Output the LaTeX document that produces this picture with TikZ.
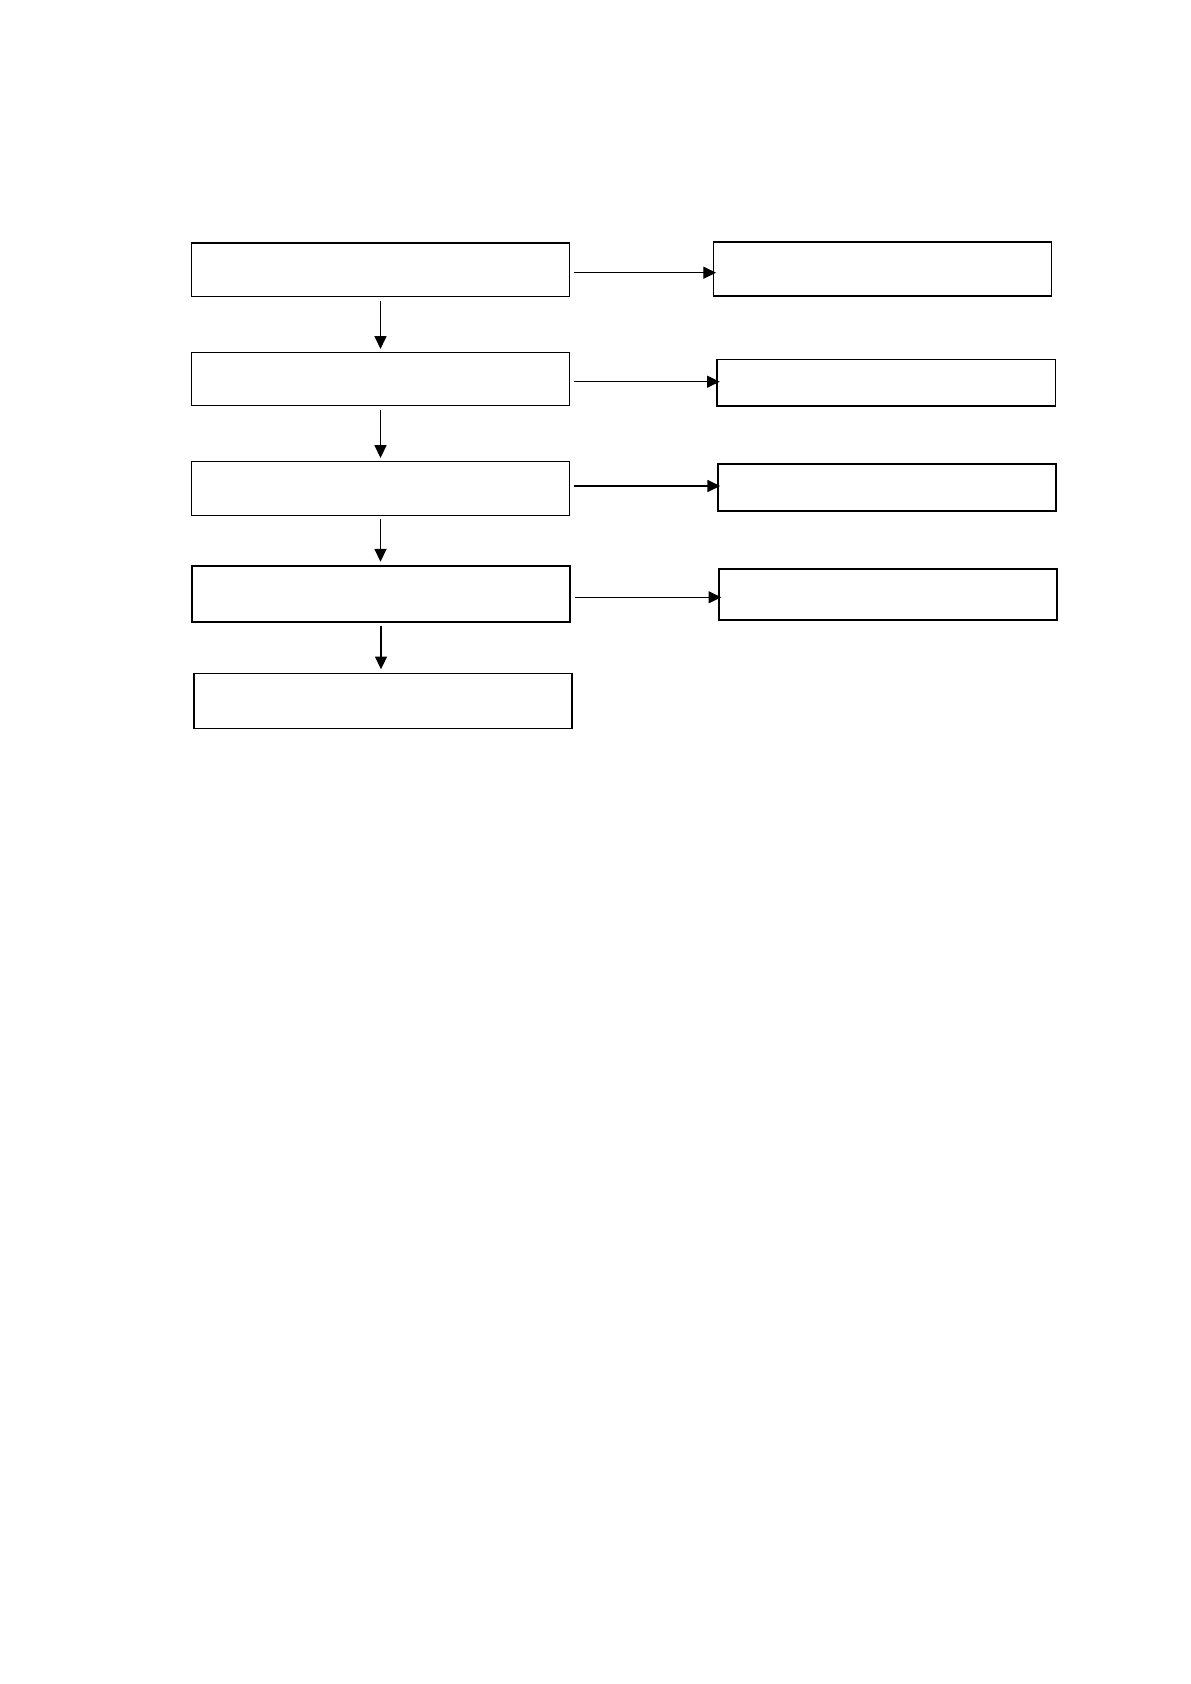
\documentclass[tikz,border=0pt]{standalone}
\usetikzlibrary{arrows.meta}
\begin{document}
\begin{tikzpicture}[x=0.5pt, y=-0.5pt,
    box/.style={draw, rectangle, inner sep=0pt},
    arr/.style={line width=0.6pt, -{Triangle[length=6.4pt, width=6pt]}}]
  \useasboundingbox (0,0) rectangle (1190,1684);

  \foreach \i/\x/\y/\h/\lw in {1/380.5/270/26.7/0.8, 2/380.5/379.3/26.65/0.5, 3/380.5/488.5/26.8/0.5, 4/381/593.8/27.85/1.0, 5/383/700.8/27.5/0.8} {
    \node[box, minimum width=189pt, minimum height=\h pt, line width=\lw pt] (Step\i) at (\x,\y) {};
  }
  \foreach \i/\x/\y/\h/\lw in {1/882.5/269/27/0.6, 2/886.2/382.7/23.35/0.6, 3/887/487.3/23.35/1.0, 4/888/594.7/25.65/0.9} {
    \node[box, minimum width=169.3pt, minimum height=\h pt, line width=\lw pt] (Out\i) at (\x,\y) {};
  }

  \foreach \i/\j in {1/2, 2/3, 3/4, 4/5} {
    \draw[arr] ([yshift=-1.7pt]Step\i.south) -- ([yshift=1.6pt]Step\i.south |- Step\j.north);
  }
  \foreach \i/\d in {1/2.7, 2/2.4, 3/-2.5, 4/3.5} {
    \draw[arr] ([shift={(3.5,\d)}]Step\i.east) -- ([shift={(3.5,\d)}]Step\i.east -| Out\i.west);
  }
\end{tikzpicture}
\end{document}
